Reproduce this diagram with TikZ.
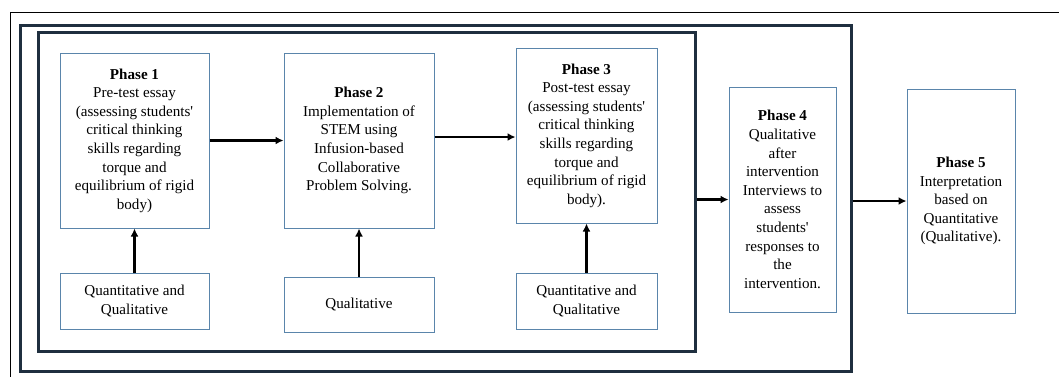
\documentclass[tikz,border=0pt]{standalone}
\usepackage{fontspec}
\setmainfont{Liberation Serif}
\usetikzlibrary{arrows.meta}
\usetikzlibrary{positioning}
\definecolor{boxline}{HTML}{5A85AB}
\definecolor{frameline}{HTML}{1F2F3F}
\newcommand{\apos}{\textquotesingle}

\begin{document}
\begin{tikzpicture}[x=1pt,y=-1pt,
    font=\fontsize{15.1}{18.6}\selectfont,
    phasebox/.style={draw=boxline,line width=1pt,align=center,inner sep=0pt},
    framebox/.style={draw=frameline,line width=3pt,inner sep=0pt},
    flow/.style={line width=2.2pt,-{Latex[length=8pt,width=8pt]}}]
    \useasboundingbox (0,0) rectangle (1059,376);
    \begin{scope}
      \clip (0,0) rectangle (1059,376);
      \draw[line width=1pt] (10,12) rectangle (1080,400);
    \end{scope}
    \node[framebox,minimum width=831pt,minimum height=346pt] (middle) at (435.5,198) {};
    \node[framebox,minimum width=657pt,minimum height=319pt] (inner) at (366.5,191.5) {};
    \node[phasebox,minimum width=149pt,minimum height=175pt] (P1) at (134.5,140.5)
      {\textbf{Phase 1}\\Pre-test essay\\(assessing students\apos\\critical thinking\\skills regarding\\torque and\\equilibrium of rigid\\body)};
    \node[phasebox,minimum width=150pt,minimum height=175pt] (P2) at (359,140.5)
      {\textbf{Phase 2}\\Implementation of\\STEM using\\Infusion-based\\Collaborative\\Problem Solving.};
    \node[phasebox,minimum width=141pt,minimum height=175pt] (P3) at (586.5,135.5)
      {\textbf{Phase 3}\\Post-test essay\\(assessing students\apos\\critical thinking\\skills regarding\\torque and\\equilibrium of rigid\\body).};
    \node[phasebox,minimum width=107pt,minimum height=225pt] (P4) at (782.5,199.5)
      {\textbf{Phase 4}\\Qualitative\\after\\intervention\\Interviews to\\assess\\students\apos\\responses to\\the\\intervention.};
    \node[phasebox,minimum width=108pt,minimum height=224pt] (P5) at (961,201)
      {\textbf{Phase 5}\\Interpretation\\based on\\Quantitative\\(Qualitative).};
    \node[phasebox,minimum width=149pt,minimum height=56pt] (Q1) at (134.5,301)
      {Quantitative and\\Qualitative};
    \node[phasebox,minimum width=150pt,minimum height=55pt] (Q2) at (359,304.5)
      {Qualitative};
    \node[phasebox,minimum width=141pt,minimum height=56pt] (Q3) at (586.5,301)
      {Quantitative and\\Qualitative};
    \draw[flow] (P1.east) -- (P2.west);
    \draw[flow] ([yshift=3.5pt]P2.east) -- ([yshift=3.5pt]P2.east -| P3.west);
    \draw[flow] (inner.east |- P4.west) -- (P4.west);
    \draw[flow] (middle.east |- P5.west) -- (P5.west);
    \draw[flow] (Q1) -- (P1);
    \draw[flow] (Q2) -- (P2);
    \draw[flow] (Q3) -- (P3);
  \end{tikzpicture}
\end{document}
